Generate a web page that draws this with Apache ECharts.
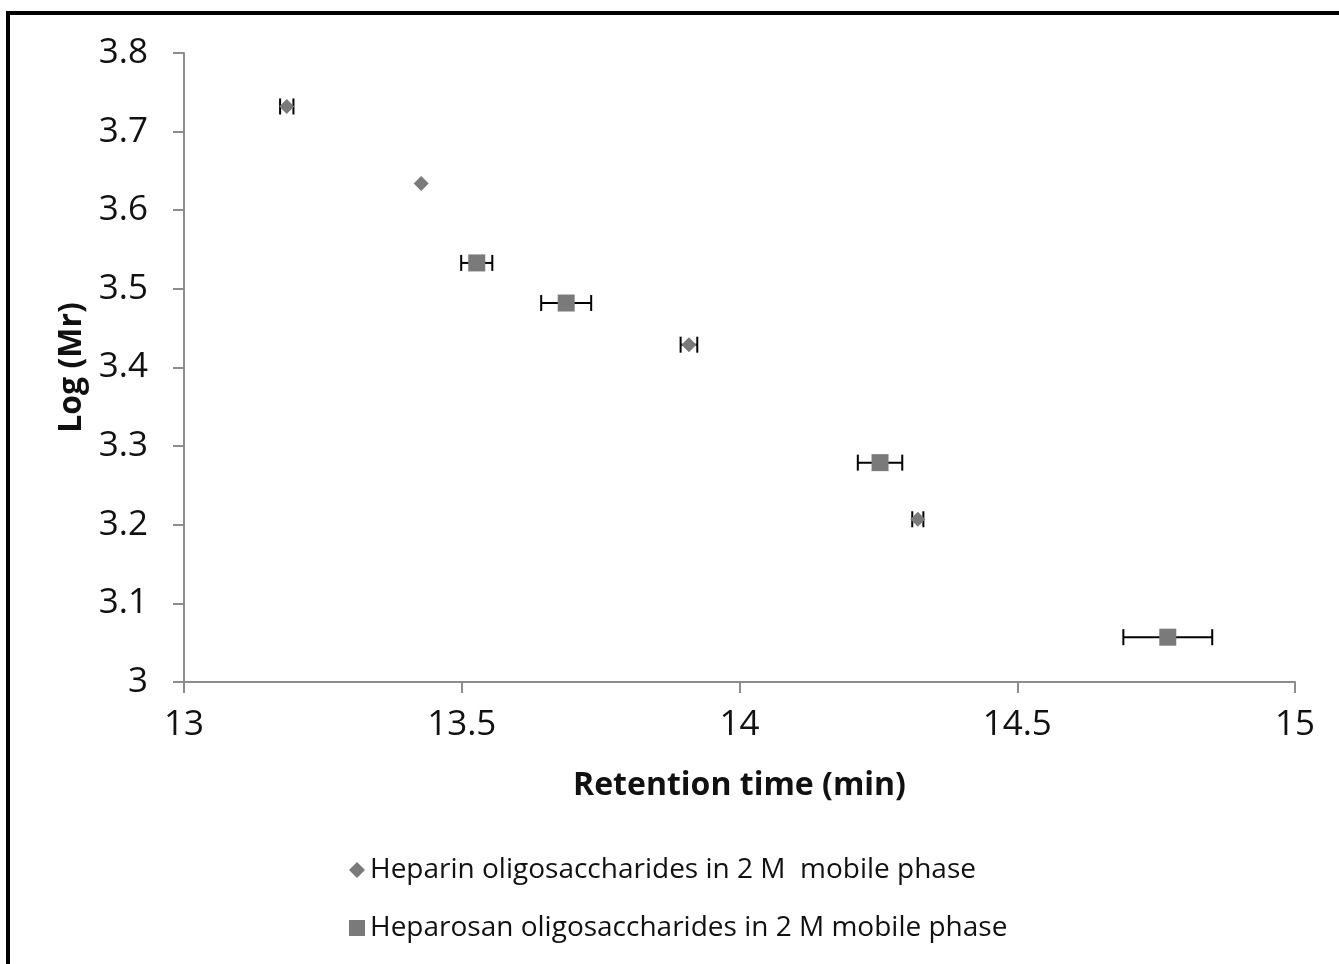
<!DOCTYPE html>
<html>
<head>
<meta charset="utf-8">
<script src="https://cdn.jsdelivr.net/npm/echarts@6/dist/echarts.min.js"></script>
<style>
  html, body { margin: 0; padding: 0; background: #fff; }
  #frame { position: absolute; left: 6px; top: 11px; width: 1400px; height: 1000px;
           border-top: 4px solid #000; border-left: 4px solid #000; box-sizing: border-box; }
  #chart { position: absolute; left: 0; top: 0; width: 1339px; height: 964px; }
</style>
</head>
<body>
<div id="frame"></div>
<div id="chart"></div>
<script>
// ---- data ----
const seriesNames = [
  'Heparin oligosaccharides in 2 M  mobile phase',
  'Heparosan oligosaccharides in 2 M mobile phase'
];
const heparinX   = [13.185, 13.427, 13.909, 14.321];
const heparinY   = [3.732, 3.634, 3.429, 3.207];
const heparinErr = [0.012, 0.0, 0.015, 0.010];
const heparosanX   = [13.527, 13.688, 14.253, 14.771];
const heparosanY   = [3.533, 3.482, 3.279, 3.057];
const heparosanErr = [0.028, 0.045, 0.040, 0.080];
const xTicks = [13, 13.5, 14, 14.5, 15];
const yTicks = [3, 3.1, 3.2, 3.3, 3.4, 3.5, 3.6, 3.7, 3.8];

const pts = (xs, ys) => xs.map((x, i) => [x, ys[i]]);
const errData = (xs, ys, es) => xs.map((x, i) => [x, ys[i], es[i]]);

function errRender(params, api) {
  const x = api.value(0), y = api.value(1), e = api.value(2);
  if (!e) return null;
  const p1 = api.coord([x - e, y]);
  const p2 = api.coord([x + e, y]);
  const cap = 8;
  const style = { stroke: '#000', lineWidth: 2 };
  return {
    type: 'group',
    children: [
      { type: 'line', shape: { x1: p1[0], y1: p1[1], x2: p2[0], y2: p2[1] }, style },
      { type: 'line', shape: { x1: p1[0], y1: p1[1] - cap, x2: p1[0], y2: p1[1] + cap }, style },
      { type: 'line', shape: { x1: p2[0], y1: p2[1] - cap, x2: p2[0], y2: p2[1] + cap }, style }
    ]
  };
}

const chart = echarts.init(document.getElementById('chart'), null, { renderer: 'canvas' });
const axisColor = '#8c8c8c';
const font = '"Open Sans", sans-serif';
chart.setOption({
  backgroundColor: 'transparent',
  animation: false,
  textStyle: { fontFamily: font },
  grid: { left: 184, right: 44, top: 53, bottom: 282 },
  legend: {
    orient: 'vertical',
    left: 344,
    top: 851,
    itemGap: 30,
    itemWidth: 16,
    itemHeight: 16,
    textStyle: { fontSize: 28, color: '#111', fontFamily: font },
    data: [
      { name: seriesNames[0], icon: 'diamond' },
      { name: seriesNames[1], icon: 'rect' }
    ]
  },
  xAxis: {
    type: 'value',
    min: xTicks[0], max: xTicks[xTicks.length - 1], interval: 0.5,
    name: 'Retention time (min)',
    nameLocation: 'middle',
    nameGap: 88,
    nameTextStyle: { fontSize: 32, fontWeight: 'bold', color: '#111', fontFamily: font },
    axisLine: { show: true, lineStyle: { color: axisColor, width: 2 } },
    axisTick: { show: true, inside: false, length: 11, lineStyle: { color: axisColor, width: 2 } },
    axisLabel: { fontSize: 35, color: '#111', margin: 26, fontFamily: font },
    splitLine: { show: false }
  },
  yAxis: {
    type: 'value',
    min: yTicks[0], max: yTicks[yTicks.length - 1], interval: 0.1,
    name: 'Log (Mr)',
    nameLocation: 'middle',
    nameGap: 94,
    nameRotate: 90,
    nameTextStyle: { fontSize: 32, fontWeight: 'bold', color: '#111', fontFamily: font },
    axisLine: { show: true, lineStyle: { color: axisColor, width: 2 } },
    axisTick: { show: true, inside: false, length: 11, lineStyle: { color: axisColor, width: 2 } },
    axisLabel: { fontSize: 35, color: '#111', margin: 36, fontFamily: font,
                 formatter: v => String(Math.round(v * 10) / 10) },
    splitLine: { show: false }
  },
  series: [
    {
      type: 'custom', name: 'errHeparin', renderItem: errRender,
      data: errData(heparinX, heparinY, heparinErr), z: 1, silent: true,
      encode: { x: 0, y: 1 }
    },
    {
      type: 'custom', name: 'errHeparosan', renderItem: errRender,
      data: errData(heparosanX, heparosanY, heparosanErr), z: 1, silent: true,
      encode: { x: 0, y: 1 }
    },
    {
      type: 'scatter', name: seriesNames[0], symbol: 'diamond', symbolSize: 15,
      itemStyle: { color: '#7a7a7a', opacity: 1 }, z: 3,
      data: pts(heparinX, heparinY)
    },
    {
      type: 'scatter', name: seriesNames[1], symbol: 'rect', symbolSize: 17,
      itemStyle: { color: '#7a7a7a', opacity: 1 }, z: 3,
      data: pts(heparosanX, heparosanY)
    }
  ]
});
</script>
</body>
</html>
